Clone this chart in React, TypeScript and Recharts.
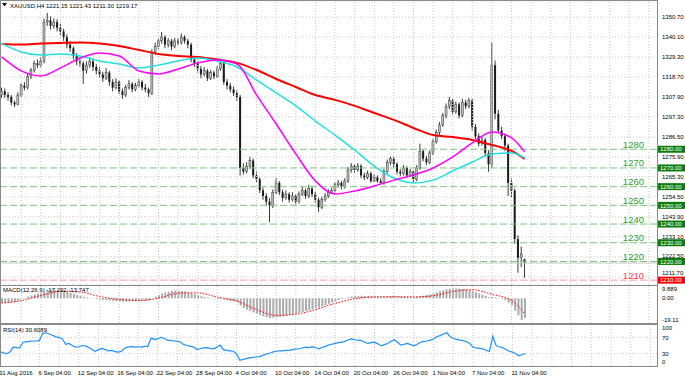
import React from 'react';
import { ComposedChart, Bar, Line, XAxis, YAxis, CartesianGrid, ReferenceLine } from 'recharts';

// XAUUSD candles (one per slot)
const opens = [
  1309, 1311, 1309, 1308, 1305, 1304, 1309, 1314, 1313, 1319,
  1322, 1326, 1325, 1327, 1348, 1349, 1346, 1348, 1345, 1343,
  1340, 1336, 1334, 1330, 1327, 1326, 1322, 1325, 1327, 1324,
  1322, 1320, 1318, 1321, 1316, 1313, 1316, 1311, 1309, 1313,
  1315, 1312, 1314, 1316, 1313, 1312, 1310, 1332, 1335, 1338,
  1340, 1336, 1338, 1335, 1338, 1337, 1340, 1338, 1336, 1328,
  1326, 1323, 1320, 1322, 1318, 1321, 1319, 1323, 1326, 1316,
  1314, 1312, 1310, 1308, 1270, 1268, 1271, 1274, 1266, 1264,
  1258, 1255, 1252, 1250, 1257, 1262, 1257, 1254, 1256, 1253,
  1255, 1252, 1256, 1258, 1255, 1259, 1256, 1253, 1249, 1253,
  1255, 1257, 1258, 1261, 1262, 1260, 1263, 1269, 1271, 1269,
  1271, 1266, 1265, 1267, 1263, 1265, 1263, 1262, 1268, 1273,
  1275, 1272, 1268, 1267, 1270, 1266, 1268, 1264, 1270, 1279,
  1275, 1273, 1278, 1284, 1289, 1293, 1298, 1303, 1306, 1300,
  1304, 1298, 1305, 1303, 1306, 1292, 1287, 1283, 1285, 1278,
  1272, 1325, 1299, 1290, 1287, 1282, 1262, 1258, 1232, 1222,
  1221.15,
];
const highs = [
  1313, 1312.5, 1310.5, 1309, 1306, 1310.5, 1315.5, 1316, 1320.5, 1323.5,
  1327.5, 1328, 1329, 1350, 1352.9, 1351, 1350, 1349.5, 1347, 1344.5,
  1341.5, 1338, 1335, 1331.5, 1329, 1327, 1327, 1329, 1328.5, 1325.5,
  1324, 1321.5, 1323.5, 1322, 1317.5, 1318, 1317, 1312.5, 1314.5, 1317,
  1316, 1315.5, 1317.5, 1317, 1315, 1313, 1333.5, 1337, 1339.5, 1342.7,
  1341, 1339.5, 1339, 1339.5, 1339.5, 1342, 1341, 1339, 1337, 1329.5,
  1327, 1324.5, 1324, 1323, 1322.5, 1322, 1324.5, 1328, 1327, 1317.5,
  1315.5, 1313.5, 1311.5, 1309, 1272.5, 1273, 1276, 1275, 1268, 1265,
  1259.5, 1256.5, 1254, 1258.5, 1264.6, 1263, 1258.5, 1258, 1257, 1257,
  1256, 1257.5, 1260, 1259, 1261, 1260, 1257.5, 1254, 1254.5, 1256.5,
  1258.5, 1259.5, 1262.5, 1263.5, 1263, 1264.5, 1270.5, 1272.6, 1272, 1272.5,
  1272, 1267.5, 1268.5, 1268, 1266.5, 1266, 1264.5, 1269.5, 1274.5, 1276,
  1276, 1273, 1269.5, 1271.5, 1271, 1269.5, 1269, 1271.5, 1283, 1280,
  1276.5, 1279.5, 1285.5, 1290.5, 1294.5, 1299.5, 1304.5, 1308, 1307, 1305.5,
  1305, 1307, 1306.5, 1307.5, 1307, 1293.5, 1288.5, 1287, 1286, 1279.5,
  1337, 1327.5, 1301, 1292, 1288.5, 1283, 1264.5, 1259, 1234, 1228,
  1221.43,
];
const lows = [
  1307.5, 1307.5, 1306, 1303.5, 1302.5, 1303.5, 1308, 1311.5, 1312, 1317.5,
  1321, 1323.5, 1324, 1326, 1346, 1344, 1344.5, 1343, 1341, 1338,
  1334, 1332, 1328, 1325, 1324, 1315, 1320.5, 1323.5, 1322, 1320,
  1318, 1316, 1317, 1314, 1311, 1312, 1309.5, 1307, 1308, 1312,
  1310.5, 1311, 1313, 1311.5, 1310.5, 1308, 1309, 1330.5, 1333.5, 1336.5,
  1334, 1334.5, 1333, 1334, 1335.5, 1336, 1336.5, 1334, 1326.5, 1324,
  1321, 1318, 1319, 1316.5, 1317, 1317.5, 1318, 1322, 1314.5, 1312,
  1310.5, 1308.5, 1306, 1266, 1266.5, 1267, 1269.5, 1264.5, 1262, 1256.5,
  1253, 1250, 1241, 1248.5, 1256, 1255.5, 1252, 1253, 1251.5, 1252,
  1250.5, 1251, 1255, 1253.5, 1254, 1254.5, 1251.5, 1246.5, 1248, 1252,
  1254, 1256, 1257, 1259.5, 1258.5, 1259, 1262, 1267.5, 1267.5, 1268,
  1264.5, 1263.5, 1264, 1262, 1262.5, 1262, 1261.5, 1261, 1267, 1271.5,
  1270.5, 1266.5, 1265.5, 1266, 1264.5, 1265, 1262, 1263, 1269, 1273.5,
  1271.5, 1272, 1277, 1283, 1287.5, 1292, 1296.5, 1301.5, 1298.5, 1299,
  1296.5, 1297, 1301.5, 1302, 1290, 1285.5, 1281.5, 1282, 1276.5, 1268,
  1270, 1296, 1288.5, 1285.5, 1279, 1255, 1254.5, 1229.5, 1213.9, 1217,
  1211.3,
];
const closes = [
  1311, 1309, 1308, 1305, 1304, 1309, 1314, 1313, 1319, 1322,
  1326, 1325, 1327, 1348, 1349, 1346, 1348, 1345, 1343, 1340,
  1336, 1334, 1330, 1327, 1326, 1322, 1325, 1327, 1324, 1322,
  1320, 1318, 1321, 1316, 1313, 1316, 1311, 1309, 1313, 1315,
  1312, 1314, 1316, 1313, 1312, 1310, 1332, 1335, 1338, 1340,
  1336, 1338, 1335, 1338, 1337, 1340, 1338, 1336, 1328, 1326,
  1323, 1320, 1322, 1318, 1321, 1319, 1323, 1326, 1316, 1314,
  1312, 1310, 1308, 1270, 1268, 1271, 1274, 1266, 1264, 1258,
  1255, 1252, 1250, 1257, 1262, 1257, 1254, 1256, 1253, 1255,
  1252, 1256, 1258, 1255, 1259, 1256, 1253, 1249, 1253, 1255,
  1257, 1258, 1261, 1262, 1260, 1263, 1269, 1271, 1269, 1271,
  1266, 1265, 1267, 1263, 1265, 1263, 1262, 1268, 1273, 1275,
  1272, 1268, 1267, 1270, 1266, 1268, 1264, 1270, 1279, 1275,
  1273, 1278, 1284, 1289, 1293, 1298, 1303, 1306, 1300, 1304,
  1298, 1305, 1303, 1306, 1292, 1287, 1283, 1285, 1278, 1272,
  1325, 1299, 1290, 1287, 1282, 1262, 1258, 1232, 1222, 1224,
  1219.17,
];

// moving averages, sampled at these candle slots
const maSlots = [0, 6, 12, 18, 24, 30, 36, 42, 48, 54, 60, 66, 72, 78, 84, 90, 96, 102, 108, 114, 120, 126, 132, 138, 144, 150, 156, 160];
const maRed = [1336.3, 1336.0, 1336.6, 1336.9, 1337.1, 1336.6, 1335.2, 1333.1, 1331.0, 1329.9, 1329.4, 1328.0, 1326.2, 1322.4, 1317.6, 1313.3, 1309.0, 1306.4, 1303.2, 1299.4, 1295.7, 1291.4, 1287.6, 1286.5, 1285.0, 1282.3, 1279.1, 1274.8];
const maCyan = [1336.6, 1332.0, 1330.4, 1331.0, 1329.9, 1327.2, 1325.6, 1323.5, 1325.0, 1327.2, 1328.8, 1327.2, 1324.0, 1317.0, 1310.1, 1303.2, 1295.1, 1287.6, 1279.6, 1271.0, 1264.6, 1262.0, 1263.5, 1268.4, 1273.2, 1277.5, 1278.0, 1275.4];
const maMagenta = [1329.4, 1321.9, 1319.2, 1323.5, 1328.8, 1331.5, 1329.9, 1321.9, 1320.3, 1322.9, 1326.2, 1327.8, 1325.6, 1309.0, 1293.5, 1277.5, 1263.0, 1256.1, 1257.7, 1260.4, 1263.5, 1266.3, 1270.0, 1275.9, 1283.4, 1289.3, 1286.1, 1278.6];
const macdSignal = [-4.2, -2, 2.5, 6, 5.5, 1.5, -1, -2, 0, 4.5, 4.8, 1, -2.5, -10, -15, -14, -10, -4.5, -0.5, 1.2, 1.4, 1.2, 2.2, 6, 7.5, 3.5, -2, -13.747];

const macdMain = [
  -4, -4, -3.8, -3.5, -3.5, -2, -0.5, 0.5, 1.5, 2.5,
  3.3, 4, 4.5, 5.5, 7, 7.6, 7.5, 7.2, 6.8, 6.2,
  5.5, 4.8, 3.8, 2.8, 2, 1.3, 0.8, 0.3, -0.3, -0.8,
  -1.2, -1.5, -1.8, -2, -2.3, -2.5, -2.8, -3, -3, -2.8,
  -2.6, -2.4, -2.2, -2, -2, -1.8, 0, 1.5, 3, 4.2,
  5, 5.8, 6.5, 6.8, 6.6, 6.4, 6, 5.2, 4.4, 3.5,
  2.6, 1.8, 1.2, 0.6, 0.2, -0.2, -0.5, -0.6, -1.2, -1.8,
  -2.3, -2.8, -3.5, -6.5, -8.5, -10, -11, -12.5, -13.8, -15,
  -16, -16.8, -17.3, -17.2, -16.8, -16.3, -15.8, -15.3, -14.8, -14.2,
  -13.5, -12.8, -12, -11.2, -10.5, -9.6, -8.8, -8.2, -7.2, -6.2,
  -5, -3.8, -2.6, -1.5, -0.6, 0.2, 1, 1.6, 1.9, 2.1,
  2.2, 2.1, 2, 1.8, 1.7, 1.5, 1.3, 1.3, 1.5, 1.7,
  1.8, 1.7, 1.5, 1.4, 1.2, 1.1, 1, 1.2, 1.8, 2.3,
  2.8, 3.4, 4.2, 5.2, 6.2, 7, 7.8, 8.4, 8.6, 8.7,
  8.5, 8.2, 7.9, 7.5, 6.5, 5.3, 4.2, 3.2, 2, 0.8,
  1.2, 0.9, 0.2, -0.6, -1.8, -4, -6.5, -11, -15, -19.11,
  -17.292,
];

const rsiValues = [
  35, 32, 30, 34, 46, 45, 44, 58, 59, 60,
  61, 61, 62, 80, 81, 78, 75, 71, 70, 66,
  53, 55, 50, 46, 47, 50, 49, 45, 40, 36,
  40, 43, 40, 37, 38, 35, 34, 36, 44, 46,
  48, 46, 47, 46, 48, 48, 68, 65, 66, 70,
  67, 63, 62, 61, 60, 58, 52, 50, 48, 46,
  40, 42, 44, 45, 43, 42, 46, 51, 40, 38,
  37, 36, 30, 14, 16, 18, 20, 21, 22, 23,
  26, 29, 31, 34, 36, 37, 37, 38, 38, 40,
  41, 42, 44, 46, 45, 47, 45, 42, 45, 48,
  51, 53, 55, 57, 58, 60, 64, 66, 64, 63,
  62, 58, 55, 57, 58, 54, 49, 52, 55, 60,
  64, 58, 51, 53, 55, 52, 49, 53, 58, 60,
  61, 63, 66, 72, 74, 78, 81, 72, 67, 65,
  63, 62, 59, 55, 46, 44, 43, 42, 38, 36,
  72, 50, 47, 45, 40, 36, 34, 30, 25, 28,
  30.6089,
];

const dateTicks = [0, 12, 24, 36, 48, 60, 72, 84, 96, 108, 120, 132, 144, 156];
const dateLabels = ['31 Aug 2016', '6 Sep 04:00', '12 Sep 04:00', '16 Sep 04:00', '22 Sep 04:00', '28 Sep 04:00', '4 Oct 04:00', '10 Oct 04:00', '14 Oct 04:00', '20 Oct 04:00', '26 Oct 04:00', '1 Nov 04:00', '7 Nov 04:00', '11 Nov 04:00'];
const priceTicks = [1211.7, 1222.5, 1233.1, 1243.9, 1254.5, 1265.3, 1275.9, 1286.5, 1297.3, 1307.9, 1318.7, 1329.3, 1340.1, 1350.7];
const greenLevels = [1280, 1270, 1260, 1250, 1240, 1230, 1220];
const redLevels = [1210];
const bidPrice = 1219.17;
const macdTicks = [9.889, 0, -19.11];
const rsiTicks = [100, 70, 30, 0];

const SLOTS = 201; // candles plus the empty space on the right
const FONT = '"Liberation Sans", Arial, sans-serif';
const GRID = '#c8c8c8';

const rows = Array.from({ length: SLOTS }, (_, i) => {
  const k = maSlots.indexOf(i);
  const has = i < closes.length;
  return {
    i,
    range: has ? [lows[i], highs[i]] : undefined,
    open: has ? opens[i] : undefined,
    high: has ? highs[i] : undefined,
    low: has ? lows[i] : undefined,
    close: has ? closes[i] : undefined,
    red: k >= 0 ? maRed[k] : undefined,
    cyan: k >= 0 ? maCyan[k] : undefined,
    magenta: k >= 0 ? maMagenta[k] : undefined,
    signal: k >= 0 ? macdSignal[k] : undefined,
    macd: has ? macdMain[i] : undefined,
    rsi: has ? rsiValues[i] : undefined,
  };
});

const gridSlots = Array.from({ length: 33 }, (_, n) => (n + 1) * 6);

const Candle = (props: any) => {
  const { x, y, width, height, payload } = props;
  if (!payload || payload.close == null) return null;
  const top = Math.min(y, y + height);
  const h = Math.abs(height);
  const span = payload.high - payload.low || 1;
  const py = (p: number) => top + ((payload.high - p) / span) * h;
  const cx = x + width / 2;
  const up = payload.close >= payload.open;
  const bt = py(Math.max(payload.open, payload.close));
  const bb = py(Math.min(payload.open, payload.close));
  return (
    <g>
      <line x1={cx} x2={cx} y1={top} y2={top + h} stroke="#3a3a3a" strokeWidth={1} />
      <rect
        x={cx - 1}
        y={bt}
        width={2}
        height={Math.max(bb - bt, 0.8)}
        fill={up ? '#bcbcbc' : '#1c1c1c'}
        stroke={up ? '#3a3a3a' : 'none'}
        strokeWidth={0.5}
      />
    </g>
  );
};

// labels right next to a level box are nudged so they only touch it
const PriceTick = ({ x, y, payload }: any) => {
  const v = Number(payload.value);
  const dy = v < 1215 ? -1.8 : v > 1222 && v < 1223 ? 1 : 2.2;
  return (
    <text x={x + 3} y={y} dy={dy} fontSize={6} fontFamily={FONT} fill="#000">
      {v.toFixed(2)}
    </text>
  );
};

const macdText: Record<string, string> = { '9.889': '9.889', '0': '0.00', '-19.11': '-19.11' };
const MacdTick = ({ x, y, payload }: any) => (
  <text x={x + 3} y={y} dy={payload.value > 5 ? 4 : 2.2} fontSize={6} fontFamily={FONT} fill="#000">
    {macdText[String(payload.value)]}
  </text>
);

const RsiTick = ({ x, y, payload }: any) => {
  const dy = payload.value === 100 ? 5 : payload.value === 0 ? -2 : 2.2;
  return (
    <text x={x + 3} y={y} dy={dy} fontSize={6} fontFamily={FONT} fill="#000">
      {payload.value}
    </text>
  );
};

const DateTick = ({ x, y, payload }: any) => (
  <text x={x - 1} y={y + 6.5} fontSize={6} fontFamily={FONT} fill="#000">
    {dateLabels[dateTicks.indexOf(payload.value)]}
  </text>
);

const LevelLabel = ({ viewBox, text, color, box }: any) => {
  if (!viewBox) return null;
  const right = viewBox.x + viewBox.width;
  return (
    <g>
      <text x={right - 13} y={viewBox.y - 1.5} textAnchor="end" fontSize={9.5} fontFamily={FONT} fill={color}>
        {text}
      </text>
      <rect x={right + 1} y={viewBox.y - 3.5} width={27} height={7} fill={box} />
      <text x={right + 3} y={viewBox.y + 2.2} fontSize={6} fontFamily={FONT} fill="#fff">
        {text}.00
      </text>
    </g>
  );
};

export default function App() {
  return (
    <div style={{ position: 'absolute', left: 0, top: 0, width: 685, height: 377, background: '#fff', overflow: 'hidden' }}>
      <div style={{ position: 'absolute', left: 0, top: 0 }}>
        <ComposedChart width={685} height={286} data={rows} margin={{ top: 1, right: 0, bottom: 1, left: 0 }} barCategoryGap={0}>
          <XAxis dataKey="i" hide />
          <YAxis
            orientation="right"
            width={28}
            domain={[1207.4, 1359.3]}
            ticks={priceTicks}
            interval={0}
            tick={<PriceTick />}
            axisLine={false}
            tickLine={false}
            tickSize={0}
            allowDataOverflow
          />
          <CartesianGrid vertical={false} stroke={GRID} strokeDasharray="1 2" />
          {gridSlots.map((v) => (
            <ReferenceLine key={`g${v}`} x={v} stroke={GRID} strokeDasharray="1 2" />
          ))}
          <ReferenceLine y={bidPrice} stroke="#c4c4c4" />
          {greenLevels.map((lv) => (
            <ReferenceLine
              key={`l${lv}`}
              y={lv}
              stroke="#7fc27f"
              strokeDasharray="7 3"
              label={<LevelLabel text={String(lv)} color="#2f9e2f" box="#0b7d0b" />}
            />
          ))}
          {redLevels.map((lv) => (
            <ReferenceLine
              key={`r${lv}`}
              y={lv}
              stroke="#ff9a9a"
              strokeDasharray="7 3"
              label={<LevelLabel text={String(lv)} color="#ff3b3b" box="#ff0000" />}
            />
          ))}
          <Bar dataKey="range" shape={Candle} isAnimationActive={false} />
          <Line dataKey="red" type="monotone" stroke="#ff0000" strokeWidth={2} dot={false} connectNulls isAnimationActive={false} />
          <Line dataKey="cyan" type="monotone" stroke="#22dede" strokeWidth={1.5} dot={false} connectNulls isAnimationActive={false} />
          <Line dataKey="magenta" type="monotone" stroke="#ff00ff" strokeWidth={1.5} dot={false} connectNulls isAnimationActive={false} />
        </ComposedChart>
      </div>

      <div style={{ position: 'absolute', left: 0, top: 286 }}>
        <ComposedChart width={685} height={37} data={rows} margin={{ top: 0, right: 0, bottom: 0, left: 0 }} barCategoryGap={0}>
          <XAxis dataKey="i" hide />
          <YAxis
            orientation="right"
            width={28}
            domain={[-21.75, 10.8]}
            ticks={macdTicks}
            interval={0}
            tick={<MacdTick />}
            axisLine={false}
            tickLine={false}
            tickSize={0}
            allowDataOverflow
          />
          {gridSlots.map((v) => (
            <ReferenceLine key={`mg${v}`} x={v} stroke={GRID} strokeDasharray="1 2" />
          ))}
          <Bar dataKey="macd" fill="#ababab" barSize={2} isAnimationActive={false} />
          <Line dataKey="signal" type="monotone" stroke="#ff0000" strokeWidth={1} strokeDasharray="1.5 1.5" dot={false} connectNulls isAnimationActive={false} />
        </ComposedChart>
      </div>

      <div style={{ position: 'absolute', left: 0, top: 325 }}>
        <ComposedChart width={685} height={52} data={rows} margin={{ top: 0, right: 0, bottom: 0, left: 0 }}>
          <XAxis
            dataKey="i"
            height={11}
            ticks={dateTicks}
            interval={0}
            tick={<DateTick />}
            axisLine={false}
            tickLine={false}
            tickSize={0}
          />
          <YAxis
            orientation="right"
            width={28}
            domain={[0, 100]}
            ticks={rsiTicks}
            interval={0}
            tick={<RsiTick />}
            axisLine={false}
            tickLine={false}
            tickSize={0}
          />
          {gridSlots.map((v) => (
            <ReferenceLine key={`rg${v}`} x={v} stroke={GRID} strokeDasharray="1 2" />
          ))}
          <ReferenceLine y={70} stroke={GRID} strokeDasharray="1 2" />
          <ReferenceLine y={30} stroke={GRID} strokeDasharray="1 2" />
          <Line dataKey="rsi" type="linear" stroke="#1e90ff" strokeWidth={1.2} dot={false} isAnimationActive={false} />
        </ComposedChart>
      </div>

      <svg width={685} height={377} style={{ position: 'absolute', left: 0, top: 0, pointerEvents: 'none' }}>
        <rect x={0.5} y={0.5} width={657} height={285} fill="none" stroke="#8a8a8a" />
        <rect x={0.5} y={285.5} width={657} height={38} fill="none" stroke="#8a8a8a" />
        <rect x={0.5} y={324.5} width={657} height={42} fill="none" stroke="#8a8a8a" />
        <polygon points="2,3 7,3 4.5,6.5" fill="#000" />
        <text x={10} y={7.5} fontSize={6} fontFamily={FONT} fill="#000">
          XAUUSD,H4  1221.15 1221.43 1211.30 1219.17
        </text>
        <text x={3} y={291.5} fontSize={6} fontFamily={FONT} fill="#000">
          MACD(12,26,9) -17.292 -13.747
        </text>
        <text x={3} y={331.5} fontSize={6} fontFamily={FONT} fill="#000">
          RSI(14) 30.6089
        </text>
      </svg>
    </div>
  );
}
